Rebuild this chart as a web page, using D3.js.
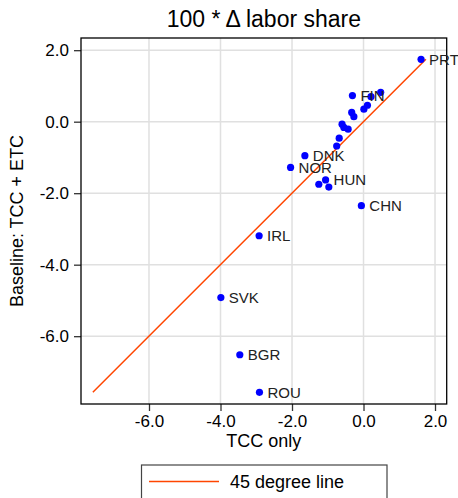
<!DOCTYPE html>
<html>
<head>
<meta charset="utf-8">
<script src="https://cdn.jsdelivr.net/npm/d3@7"></script>
<style>
  body { margin: 0; background: #fff; }
  svg { display: block; font-family: "Liberation Sans", Arial, sans-serif; }
</style>
</head>
<body>
<svg id="chart" width="458" height="498"></svg>
<script>
// country codes ("" = unlabeled point)
const countries = ['PRT', 'FIN', '', '', '', '', '', '', '', '', '', '', '',
                   'DNK', 'NOR', 'HUN', '', '', 'CHN', 'IRL', 'SVK', 'BGR', 'ROU'];
// TCC only
const tccOnly = [1.61, -0.31, 0.21, 0.48, 0.11, 0.01, -0.33, -0.27, -0.60, -0.55, -0.43, -0.68, -0.75,
                 -1.64, -2.04, -1.06, -1.25, -0.97, -0.06, -2.92, -3.99, -3.46, -2.91];
// Baseline: TCC + ETC
const baseline = [1.745, 0.73, 0.70, 0.82, 0.46, 0.35, 0.26, 0.14, -0.07, -0.16, -0.21, -0.46, -0.68,
                  -0.95, -1.28, -1.63, -1.75, -1.83, -2.35, -3.19, -4.92, -6.52, -7.57];
const tickValues = [-6, -4, -2, 0, 2];

const svg = d3.select("#chart");
const margin = {top: 38, right: 11.3, bottom: 94, left: 81};
const width = 458 - margin.left - margin.right;
const height = 498 - margin.top - margin.bottom;

const x = d3.scaleLinear().domain([-7.902, 2.327]).range([0, width]);
const y = d3.scaleLinear().domain([-7.897, 2.341]).range([height, 0]);

const g = svg.append("g").attr("transform", `translate(${margin.left},${margin.top})`);

// grid
g.selectAll(".gx").data(tickValues).enter().append("line")
    .attr("x1", d => x(d)).attr("x2", d => x(d))
    .attr("y1", 0).attr("y2", height)
    .attr("stroke", "#e0e0e0").attr("stroke-width", 1.5);
g.selectAll(".gy").data(tickValues).enter().append("line")
    .attr("y1", d => y(d)).attr("y2", d => y(d))
    .attr("x1", 0).attr("x2", width)
    .attr("stroke", "#e0e0e0").attr("stroke-width", 1.5);

// axes
const fmt = d => d.toFixed(1);
const xAxis = g.append("g").attr("transform", `translate(0,${height})`)
    .call(d3.axisBottom(x).tickValues(tickValues).tickFormat(fmt).tickSize(7).tickSizeOuter(0));
const yAxis = g.append("g")
    .call(d3.axisLeft(y).tickValues(tickValues).tickFormat(fmt).tickSize(7).tickSizeOuter(0));
[xAxis, yAxis].forEach(a => {
    a.select(".domain").remove();
    a.selectAll(".tick line").attr("stroke", "#333").attr("stroke-width", 1.3);
    a.selectAll(".tick text").attr("fill", "#000")
        .style("font-size", "17px").style("font-family", "Liberation Sans, Arial, sans-serif");
});
xAxis.selectAll(".tick text").attr("dy", "0.71em").attr("y", 11);
yAxis.selectAll(".tick text").attr("x", -12);

// frame
g.append("rect").attr("width", width).attr("height", height)
    .attr("fill", "none").attr("stroke", "#000").attr("stroke-width", 1.3);

// 45 degree line from min to max of values
const lo = d3.min(tccOnly.concat(baseline));
const hi = d3.max(tccOnly.concat(baseline));
g.append("line")
    .attr("x1", x(lo)).attr("y1", y(lo))
    .attr("x2", x(hi)).attr("y2", y(hi))
    .attr("stroke", "#ff4500").attr("stroke-width", 1.5);

// points
g.selectAll(".pt").data(tccOnly).enter().append("circle")
    .attr("cx", d => x(d))
    .attr("cy", (d, i) => y(baseline[i]))
    .attr("r", 3.6)
    .attr("fill", "#0000ff");

g.selectAll(".lbl").data(countries).enter().append("text")
    .attr("x", (d, i) => x(tccOnly[i]) + 8)
    .attr("y", (d, i) => y(baseline[i]))
    .attr("dy", "0.36em")
    .style("font-size", "15px")
    .attr("fill", "#222")
    .text(d => d);

// titles
svg.append("text")
    .attr("x", margin.left + width / 2).attr("y", 27)
    .attr("text-anchor", "middle")
    .style("font-size", "23px")
    .text("100 * \u0394 labor share");

svg.append("text")
    .attr("x", margin.left + width / 2).attr("y", 447)
    .attr("text-anchor", "middle")
    .style("font-size", "18px")
    .text("TCC only");

svg.append("text")
    .attr("transform", `translate(23,${margin.top + height / 2}) rotate(-90)`)
    .attr("text-anchor", "middle")
    .style("font-size", "18px")
    .text("Baseline: TCC + ETC");

// legend
const legend = svg.append("g");
legend.append("rect")
    .attr("x", 141.5).attr("y", 465).attr("width", 245.5).attr("height", 45)
    .attr("fill", "#fff").attr("stroke", "#444").attr("stroke-width", 1.2);
legend.append("line")
    .attr("x1", 149).attr("x2", 219).attr("y1", 481.5).attr("y2", 481.5)
    .attr("stroke", "#ff4500").attr("stroke-width", 1.5);
legend.append("text")
    .attr("x", 230).attr("y", 481.5).attr("dy", "0.36em")
    .style("font-size", "18px")
    .text("45 degree line");
</script>
</body>
</html>
